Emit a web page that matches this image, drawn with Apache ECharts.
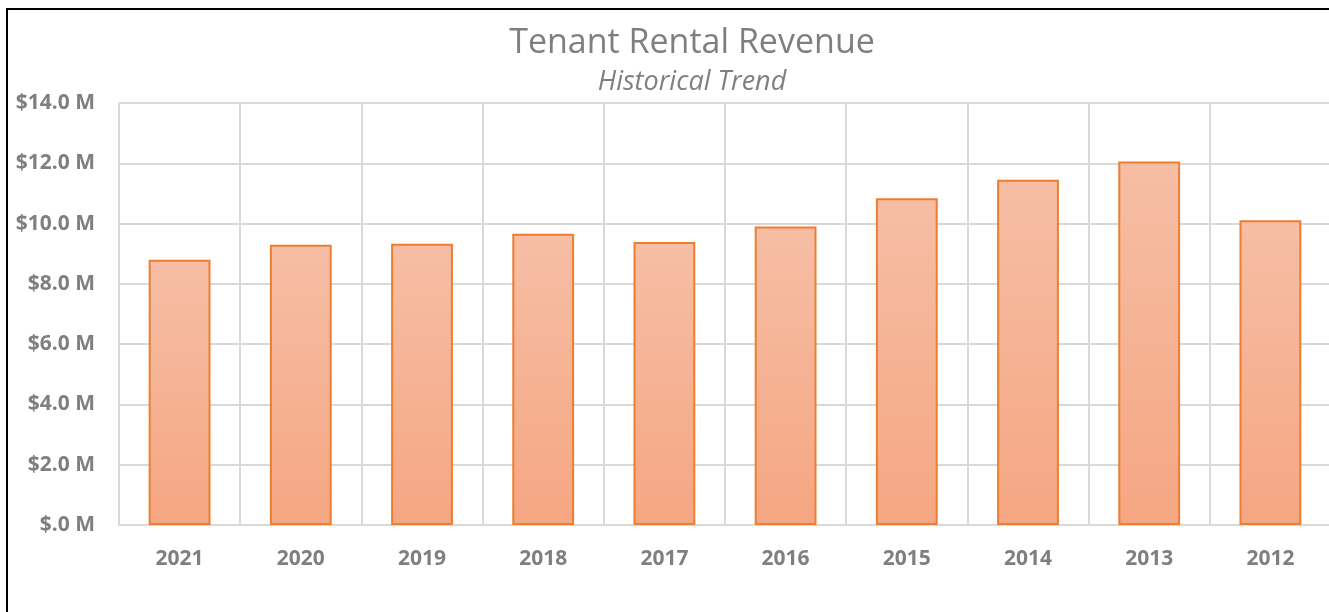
<!DOCTYPE html>
<html>
<head>
<meta charset="utf-8">
<script src="https://cdn.jsdelivr.net/npm/echarts@6/dist/echarts.min.js"></script>
<style>
  html, body { margin: 0; padding: 0; background: #fff; overflow: hidden; }
  .frame {
    position: absolute; left: 6px; top: 8px;
    width: 1400px; height: 700px;
    border: 2px solid #000; box-sizing: border-box;
  }
  #rentalChart { position: absolute; left: 0; top: 0; width: 1331px; height: 612px; }
</style>
</head>
<body>
<div class="frame"></div>
<div id="rentalChart"></div>
<script>
const years = ['2021', '2020', '2019', '2018', '2017', '2016', '2015', '2014', '2013', '2012'];
const revenue = [8.80, 9.30, 9.33, 9.66, 9.39, 9.90, 10.84, 11.45, 12.06, 10.11];
const yTicks = { min: 0, max: 14, interval: 2 };

const chart = echarts.init(document.getElementById('rentalChart'));
const labelFont = '"Open Sans", "Liberation Sans", sans-serif';

const options = {
    animation: false,
    title: {
        text: 'Tenant Rental Revenue',
        subtext: 'Historical Trend',
        left: 687,
        textAlign: 'center',
        top: 21,
        itemGap: 9,
        textStyle: {
            color: '#7f7f7f',
            fontFamily: labelFont,
            fontWeight: 'normal',
            fontSize: 34
        },
        subtextStyle: {
            color: '#7f7f7f',
            fontFamily: labelFont,
            fontStyle: 'italic',
            fontSize: 27
        }
    },
    grid: {
        left: 119,
        right: 0,
        top: 103,
        bottom: 87,
        containLabel: false
    },
    xAxis: {
        type: 'category',
        data: years,
        axisTick: { show: false },
        axisLine: { lineStyle: { color: '#d9d9d9', width: 2 } },
        splitLine: { show: true, lineStyle: { color: '#d9d9d9', width: 2 } },
        axisLabel: {
            color: '#7f7f7f',
            fontFamily: labelFont,
            fontWeight: 'bold',
            fontSize: 21,
            margin: 24
        }
    },
    yAxis: {
        type: 'value',
        min: yTicks.min,
        max: yTicks.max,
        interval: yTicks.interval,
        axisLine: { show: false },
        axisTick: { show: false },
        splitLine: { lineStyle: { color: '#d9d9d9', width: 2 } },
        axisLabel: {
            color: '#7f7f7f',
            fontFamily: labelFont,
            fontWeight: 'bold',
            fontSize: 21,
            margin: 24,
            formatter: function (val) {
                if (val === 0) {
                    return '$.0 M';
                }
                return '$' + val.toFixed(1) + ' M';
            }
        }
    },
    series: [{
        type: 'bar',
        data: revenue,
        barWidth: '51%',
        itemStyle: {
            borderColor: '#ed7d31',
            borderWidth: 2,
            color: new echarts.graphic.LinearGradient(0, 0, 0, 1, [
                { offset: 0, color: '#f6bea5' },
                { offset: 1, color: '#f5a682' }
            ])
        }
    }]
};
chart.setOption(options, true);
</script>
</body>
</html>
